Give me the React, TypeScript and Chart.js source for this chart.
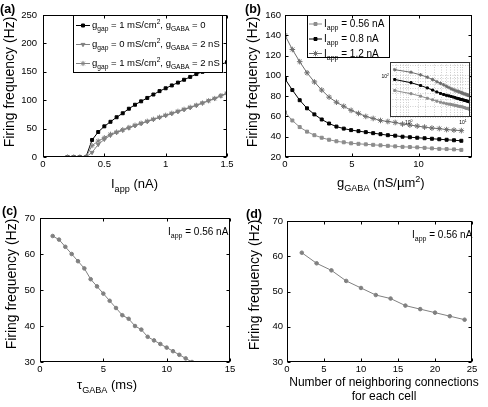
import React, { useEffect, useRef } from "react";
import { Chart, registerables } from "chart.js";
import { drawPoint } from "chart.js/helpers";
Chart.register(...registerables);

const FONT = "'Liberation Sans', Arial, Helvetica, sans-serif";

// ---------- Panel (a) ----------
const aIapp = [0.2, 0.25, 0.3, 0.35, 0.4, 0.45, 0.5, 0.55, 0.6, 0.65, 0.7, 0.75, 0.8, 0.85, 0.9, 0.95, 1.0, 1.05, 1.1, 1.15, 1.2, 1.25, 1.3, 1.35, 1.4, 1.45, 1.5];
const aGap1Gaba0 = [0, 0, 0, 0, 30, 44, 54, 62, 70, 77, 85, 92, 98, 104, 110, 116, 121, 126, 131, 136, 141, 146, 150, 155, 159, 163, 167];
const aGap0Gaba2 = [0, 0, 0, 0, 8, 22, 31, 38, 43, 47, 51, 55, 59, 62.5, 66, 69.5, 73, 76.5, 80, 83.5, 87, 91, 95, 99, 103, 107.5, 112];
const aGap1Gaba2 = [0, 0, 0, 0, 20, 28, 34, 40, 44, 48, 52, 56, 59.5, 63, 66.5, 70, 73.5, 77, 80.5, 84, 87.5, 91, 95, 99, 103, 108, 112];

// ---------- Panel (b) ----------
const bGaba = [0, 0.55, 1.1, 1.65, 2.2, 2.75, 3.3, 3.85, 4.4, 4.95, 5.5, 6.05, 6.6, 7.15, 7.7, 8.25, 8.8, 9.35, 9.9, 10.45, 11, 11.55, 12.1, 12.65, 13.2];
const bIapp056 = [64, 56, 49.5, 45, 41.5, 39, 37, 35.5, 34.5, 33.5, 33, 32.5, 32, 31.5, 31, 30.5, 30, 29.8, 29.5, 29, 28.5, 28, 27.8, 27.5, 27];
const bIapp08 = [97, 86, 76, 68, 62, 57, 53, 50, 48, 46.5, 45.5, 44.5, 43.5, 42.5, 41.5, 41, 40, 39.5, 39, 38.5, 38, 37.5, 37, 36.5, 36];
const bIapp12 = [140, 126, 114, 103, 94, 86, 79, 74, 70, 66, 63, 60, 58, 56, 55, 54, 52.5, 51.5, 50.5, 49.5, 48.5, 48, 47, 46.5, 46];

// ---------- Panel (c) ----------
const cTau = [1, 1.5, 2, 2.5, 3, 3.5, 4, 4.5, 5, 5.5, 6, 6.5, 7, 7.5, 8, 8.5, 9, 9.5, 10, 10.5, 11, 11.5, 12];
const cFreq = [65, 64, 62, 60, 58, 56, 53, 51, 49, 47, 45, 43, 42, 40, 39, 37, 36, 35, 34, 33, 32, 31, 30];

// ---------- Panel (d) ----------
const dConn = [2, 4, 6, 8, 10, 12, 14, 16, 18, 20, 22, 24];
const dFreq = [61, 58, 56, 53, 51, 49, 48, 46, 45, 44, 43, 42];

const GREY = "#808080";
const LGREY = "#8c8c8c";
const DGREY = "#6e6e6e";

type Seg = [string, string?];

function richWidth(ctx: CanvasRenderingContext2D, segs: Seg[], size: number, weight = "") {
  let w = 0;
  for (const [t, k] of segs) {
    ctx.font = `${weight} ${k ? size * 0.7 : size}px ${FONT}`;
    w += ctx.measureText(t).width;
  }
  return w;
}

function drawRich(ctx: CanvasRenderingContext2D, segs: Seg[], x: number, y: number, size: number, align = "left", weight = "") {
  const w = richWidth(ctx, segs, size, weight);
  let cx = align === "center" ? x - w / 2 : align === "right" ? x - w : x;
  ctx.save();
  ctx.fillStyle = "#000";
  ctx.textAlign = "left";
  ctx.textBaseline = "alphabetic";
  for (const [t, k] of segs) {
    const s = k ? size * 0.7 : size;
    ctx.font = `${weight} ${s}px ${FONT}`;
    const dy = k === "sub" ? size * 0.32 : k === "sup" ? -size * 0.42 : 0;
    ctx.fillText(t, cx, y + dy);
    cx += ctx.measureText(t).width;
  }
  ctx.restore();
}

function drawYTitle(ctx: CanvasRenderingContext2D, text: string, x: number, cy: number, size: number) {
  ctx.save();
  ctx.translate(x, cy);
  ctx.rotate(-Math.PI / 2);
  ctx.font = `${size}px ${FONT}`;
  ctx.fillStyle = "#000";
  ctx.textAlign = "center";
  ctx.textBaseline = "alphabetic";
  ctx.fillText(text, 0, 0);
  ctx.restore();
}

function drawFrame(chart: any, tickLen = 3) {
  const { ctx, chartArea: a, scales } = chart;
  ctx.save();
  ctx.strokeStyle = "#000";
  ctx.lineWidth = 1;
  const L = Math.round(a.left) + 0.5, R = Math.round(a.right) - 0.5;
  const T = Math.round(a.top) + 0.5, B = Math.round(a.bottom) - 0.5;
  ctx.strokeRect(L, T, R - L, B - T);
  ctx.beginPath();
  for (const t of scales.x.ticks) {
    const px = Math.round(scales.x.getPixelForValue(t.value)) + 0.5;
    ctx.moveTo(px, B); ctx.lineTo(px, B - tickLen);
    ctx.moveTo(px, T); ctx.lineTo(px, T + tickLen);
  }
  for (const t of scales.y.ticks) {
    const py = Math.round(scales.y.getPixelForValue(t.value)) + 0.5;
    ctx.moveTo(L, py); ctx.lineTo(L + tickLen, py);
    ctx.moveTo(R, py); ctx.lineTo(R - tickLen, py);
  }
  ctx.stroke();
  ctx.restore();
}

function legendBox(ctx: CanvasRenderingContext2D, box: [number, number, number, number], entries: any[], lx1: number, lx2: number, tx: number, size: number) {
  const [x1, y1, x2, y2] = box;
  ctx.save();
  ctx.fillStyle = "#fff";
  ctx.fillRect(x1, y1, x2 - x1, y2 - y1);
  ctx.strokeStyle = "#000";
  ctx.lineWidth = 1;
  ctx.strokeRect(x1 + 0.5, y1 + 0.5, x2 - x1 - 1, y2 - y1 - 1);
  for (const e of entries) {
    ctx.strokeStyle = e.color;
    ctx.fillStyle = e.color;
    ctx.lineWidth = 1;
    ctx.beginPath();
    ctx.moveTo(lx1, e.y + 0.5);
    ctx.lineTo(lx2, e.y + 0.5);
    ctx.stroke();
    drawPoint(ctx, { pointStyle: e.style, rotation: e.rotation || 0, radius: e.radius, borderWidth: 1 } as any, (lx1 + lx2) / 2, e.y + 0.5);
    drawRich(ctx, e.segs, tx, e.y + size * 0.36, size);
  }
  ctx.restore();
}

const pts = (xs: number[], ys: number[]) => xs.map((x, i) => ({ x, y: ys[i] }));

function series(data: any, color: string, style: string, radius: number, extra: any = {}) {
  return {
    data,
    borderColor: color,
    borderWidth: 1,
    backgroundColor: color,
    pointStyle: style,
    pointRadius: radius,
    pointBackgroundColor: color,
    pointBorderColor: color,
    pointBorderWidth: 1,
    tension: 0,
    ...extra,
  };
}

function panelConfig(p: any) {
  const [l, t, r, b] = p.area;
  const tickFont = { family: FONT, size: 9.5 };
  return {
    type: "line",
    data: { datasets: p.datasets },
    options: {
      responsive: false,
      animation: false,
      devicePixelRatio: 1,
      events: [],
      layout: { padding: { left: 0, top: t, right: p.W - r, bottom: 0 } },
      plugins: { legend: { display: false }, tooltip: { enabled: false } },
      scales: {
        x: {
          type: "linear",
          min: p.xr[0],
          max: p.xr[1],
          afterFit: (s: any) => { s.height = p.H - b; },
          grid: { display: false, drawTicks: false },
          border: { display: false },
          ticks: { stepSize: p.xr[2], includeBounds: false, autoSkip: false, maxRotation: 0, padding: 2, font: tickFont, color: "#000", callback: (v: any) => String(+v) },
        },
        y: {
          type: "linear",
          min: p.yr[0],
          max: p.yr[1],
          afterFit: (s: any) => { s.width = l; },
          grid: { display: false, drawTicks: false },
          border: { display: false },
          ticks: { stepSize: p.yr[2], includeBounds: false, autoSkip: false, padding: p.ypad, font: tickFont, color: "#000", callback: (v: any) => String(+v) },
        },
      },
    },
    plugins: [
      {
        id: "deco",
        afterDatasetsDraw: (c: any) => p.extras && p.extras(c.ctx, c),
        afterDraw: (c: any) => { drawFrame(c); p.titles(c.ctx, c); },
      },
    ],
  };
}

function ChartBox({ x, y, w, h, config }: any) {
  const ref = useRef<HTMLCanvasElement>(null);
  useEffect(() => {
    const c = new Chart(ref.current as HTMLCanvasElement, config() as any);
    return () => c.destroy();
  }, []);
  return <canvas ref={ref} width={w} height={h} style={{ position: "absolute", left: x, top: y, width: w, height: h }} />;
}

const panelLabel = (ctx: CanvasRenderingContext2D, s: string, x: number, y: number) => {
  ctx.save();
  ctx.font = `bold 12.5px ${FONT}`;
  ctx.fillStyle = "#000";
  ctx.textBaseline = "alphabetic";
  ctx.fillText(s, x, y);
  ctx.restore();
};

const configA = () =>
  panelConfig({
    W: 244, H: 200, area: [43, 15, 227, 157], ypad: 6,
    xr: [0, 1.5, 0.5], yr: [0, 250, 50],
    datasets: [
      series(pts(aIapp, aGap1Gaba0), "#000", "rect", 2.1, { order: 3 }),
      series(pts(aIapp, aGap0Gaba2), GREY, "triangle", 2.2, { order: 2, pointRotation: 180 }),
      series(pts(aIapp, aGap1Gaba2), GREY, "star", 2.6, { order: 1 }),
    ],
    extras: (ctx: CanvasRenderingContext2D) => {
      legendBox(ctx, [73, 15, 223, 73], [
        { y: 25, color: "#000", style: "rect", radius: 2.1, segs: [["g"], ["gap", "sub"], [" = 1 mS/cm"], ["2", "sup"], [", g"], ["GABA", "sub"], [" = 0"]] },
        { y: 44, color: GREY, style: "triangle", rotation: 180, radius: 2.2, segs: [["g"], ["gap", "sub"], [" = 0 mS/cm"], ["2", "sup"], [", g"], ["GABA", "sub"], [" = 2 nS"]] },
        { y: 63, color: GREY, style: "star", radius: 2.6, segs: [["g"], ["gap", "sub"], [" = 1 mS/cm"], ["2", "sup"], [", g"], ["GABA", "sub"], [" = 2 nS"]] },
      ], 76, 90, 92, 9.5);
    },
    titles: (ctx: CanvasRenderingContext2D) => {
      panelLabel(ctx, "(a)", 0, 12.5);
      drawYTitle(ctx, "Firing frequency (Hz)", 13.5, 82, 14);
      drawRich(ctx, [["I"], ["app", "sub"], [" (nA)"]], 111, 188, 13);
    },
  });

const configB = () =>
  panelConfig({
    W: 244, H: 200, area: [41, 15, 228, 157], ypad: 4,
    xr: [0, 14, 5], yr: [20, 160, 20],
    datasets: [
      series(pts(bGaba, bIapp056), LGREY, "rect", 2.1),
      series(pts(bGaba, bIapp08), "#000", "rect", 2.1),
      series(pts(bGaba, bIapp12), DGREY, "star", 2.8),
    ],
    extras: (ctx: CanvasRenderingContext2D) => {
      legendBox(ctx, [63, 15, 146, 58], [
        { y: 23.5, color: LGREY, style: "rect", radius: 2.1, segs: [["I"], ["app", "sub"], [" = 0.56 nA"]] },
        { y: 38.5, color: "#000", style: "rect", radius: 2.1, segs: [["I"], ["app", "sub"], [" = 0.8 nA"]] },
        { y: 53, color: DGREY, style: "star", radius: 2.8, segs: [["I"], ["app", "sub"], [" = 1.2 nA"]] },
      ], 65, 78, 80, 10);
    },
    titles: (ctx: CanvasRenderingContext2D) => {
      panelLabel(ctx, "(b)", 1, 12.5);
      drawYTitle(ctx, "Firing frequency (Hz)", 12.5, 82, 14);
      drawRich(ctx, [["g"], ["GABA", "sub"], [" (nS/µm"], ["2", "sup"], [")"]], 93, 187, 13);
    },
  });

const configC = () =>
  panelConfig({
    W: 244, H: 207, area: [40, 18, 230, 162], ypad: 5,
    xr: [0, 15, 5], yr: [30, 70, 10],
    datasets: [series(pts(cTau, cFreq), GREY, "circle", 1.8)],
    extras: (ctx: CanvasRenderingContext2D) => {
      drawRich(ctx, [["I"], ["app", "sub"], [" = 0.56 nA"]], 168, 35, 10);
    },
    titles: (ctx: CanvasRenderingContext2D) => {
      panelLabel(ctx, "(c)", 2, 15);
      drawYTitle(ctx, "Firing frequency (Hz)", 15.5, 84, 14);
      drawRich(ctx, [["τ"], ["GABA", "sub"], [" (ms)"]], 77, 189, 13);
    },
  });

const configD = () =>
  panelConfig({
    W: 244, H: 207, area: [43, 21, 228, 162], ypad: 4,
    xr: [0, 25, 5], yr: [30, 70, 10],
    datasets: [series(pts(dConn, dFreq), GREY, "circle", 1.8)],
    extras: (ctx: CanvasRenderingContext2D) => {
      drawRich(ctx, [["I"], ["app", "sub"], [" = 0.56 nA"]], 168, 38, 10);
    },
    titles: (ctx: CanvasRenderingContext2D) => {
      panelLabel(ctx, "(d)", 2, 18);
      drawYTitle(ctx, "Firing frequency (Hz)", 15, 85, 14);
      drawRich(ctx, [["Number of neighboring connections"]], 140, 186, 12, "center");
      drawRich(ctx, [["for each cell"]], 140, 200, 12, "center");
    },
  });

// Inset of (b): log-log view of the same series (g_GABA > 0)
const configInset = () => {
  const W = 97, H = 70;
  const area = [12, 4, 94, 60];
  const logGrid = { color: "#b0b0b0", lineWidth: 0.6, drawTicks: false };
  const logBorder = { display: false, dash: [1, 1.5] };
  const ix = bGaba.slice(1);
  return {
    type: "line",
    data: {
      datasets: [
        series(pts(ix, bIapp056.slice(1)), LGREY, "rect", 1.4),
        series(pts(ix, bIapp08.slice(1)), "#000", "rect", 1.4),
        series(pts(ix, bIapp12.slice(1)), DGREY, "star", 1.8),
      ],
    },
    options: {
      responsive: false,
      animation: false,
      devicePixelRatio: 1,
      events: [],
      layout: { padding: { left: 0, top: area[1], right: W - area[2], bottom: 0 } },
      plugins: { legend: { display: false }, tooltip: { enabled: false } },
      scales: {
        x: { type: "logarithmic", min: 0.45, max: 13.5, afterFit: (s: any) => { s.height = H - area[3]; }, ticks: { display: false }, grid: logGrid, border: logBorder },
        y: { type: "logarithmic", min: 20, max: 170, afterFit: (s: any) => { s.width = area[0]; }, ticks: { display: false }, grid: logGrid, border: logBorder },
      },
    },
    plugins: [
      {
        id: "insetDeco",
        beforeDraw: (c: any) => {
          const a = c.chartArea;
          c.ctx.save();
          c.ctx.fillStyle = "#fff";
          c.ctx.fillRect(a.left, a.top, a.right - a.left, a.bottom - a.top);
          c.ctx.restore();
        },
        afterDraw: (c: any) => {
          const { ctx, chartArea: a, scales } = c;
          ctx.save();
          ctx.strokeStyle = "#333";
          ctx.lineWidth = 1;
          ctx.strokeRect(Math.round(a.left) + 0.5, Math.round(a.top) + 0.5, Math.round(a.right - a.left) - 1, Math.round(a.bottom - a.top) - 1);
          ctx.restore();
          drawRich(ctx, [["10"], ["2", "sup"]], a.left - 1, scales.y.getPixelForValue(100) + 2, 5, "right");
          drawRich(ctx, [["10"], ["0", "sup"]], scales.x.getPixelForValue(1), a.bottom + 7, 5, "center");
          drawRich(ctx, [["10"], ["1", "sup"]], scales.x.getPixelForValue(10), a.bottom + 7, 5, "center");
        },
      },
    ],
  };
};

export default function App() {
  return (
    <div style={{ position: "absolute", left: 0, top: 0, width: 488, height: 407, background: "#fff", overflow: "hidden" }}>
      <ChartBox x={0} y={0} w={244} h={200} config={configA} />
      <ChartBox x={244} y={0} w={244} h={200} config={configB} />
      <ChartBox x={378} y={57} w={97} h={70} config={configInset} />
      <ChartBox x={0} y={200} w={244} h={207} config={configC} />
      <ChartBox x={244} y={200} w={244} h={207} config={configD} />
    </div>
  );
}
